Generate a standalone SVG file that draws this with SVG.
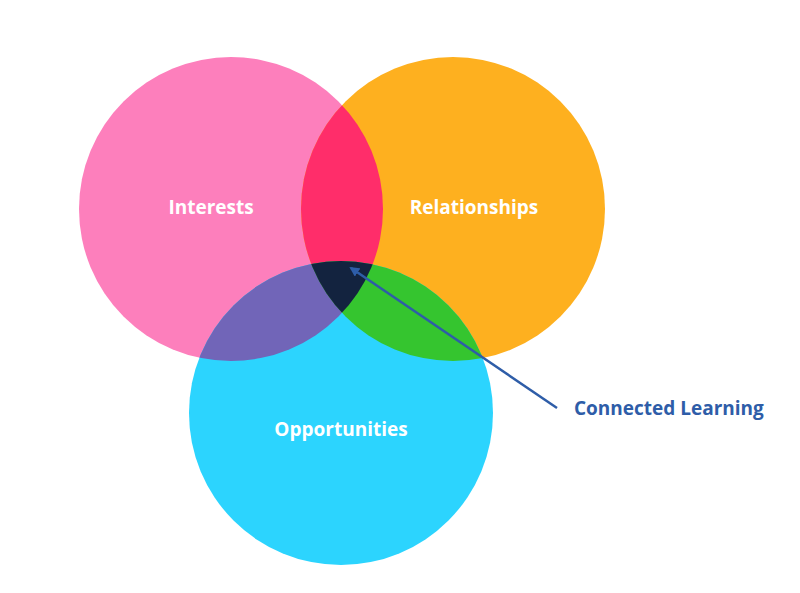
<svg xmlns="http://www.w3.org/2000/svg" width="800" height="593" viewBox="0 0 800 593">
<style>
.l{font-family:"Open Sans","Liberation Sans",sans-serif;font-weight:bold;font-size:19px;fill:#fff;text-anchor:middle}
</style>
<defs>
<clipPath id="cp"><circle cx="231" cy="209" r="152"/></clipPath>
<clipPath id="co"><circle cx="453" cy="209" r="152"/></clipPath>
<clipPath id="cb"><circle cx="341" cy="413" r="152"/></clipPath>
<marker id="ah" markerWidth="10" markerHeight="10" refX="8" refY="5" orient="auto" markerUnits="userSpaceOnUse"><path d="M0,0 L10,5 L0,10 z" fill="#2E5DA8"/></marker>
</defs>
<rect width="800" height="593" fill="#fff"/>
<g id="interests"><circle cx="231" cy="209" r="152" fill="#FD7FBC"/><text class="l" x="211" y="214">Interests</text></g>
<g id="relationships"><circle cx="453" cy="209" r="152" fill="#FEB01F"/></g>
<g id="opportunities"><circle cx="341" cy="413" r="152" fill="#2CD4FE"/></g>
<g id="overlaps">
<circle cx="453" cy="209" r="152" fill="#FF2D6A" clip-path="url(#cp)"/>
<circle cx="341" cy="413" r="152" fill="#7165B8" clip-path="url(#cp)"/>
<circle cx="341" cy="413" r="152" fill="#35C52F" clip-path="url(#co)"/>
<g clip-path="url(#cp)"><circle cx="341" cy="413" r="152" fill="#13233F" clip-path="url(#co)"/></g>
</g>
<text class="l" x="474" y="214">Relationships</text>
<text class="l" x="341" y="436">Opportunities</text>
<g id="connectors"><line x1="557" y1="408" x2="351" y2="268" stroke="#2E5DA8" stroke-width="2.5" marker-end="url(#ah)"/></g>
<text x="574" y="415" style="font-family:'Open Sans','Liberation Sans',sans-serif;font-weight:bold;font-size:19px;fill:#2E5DA8">Connected Learning</text>
</svg>
